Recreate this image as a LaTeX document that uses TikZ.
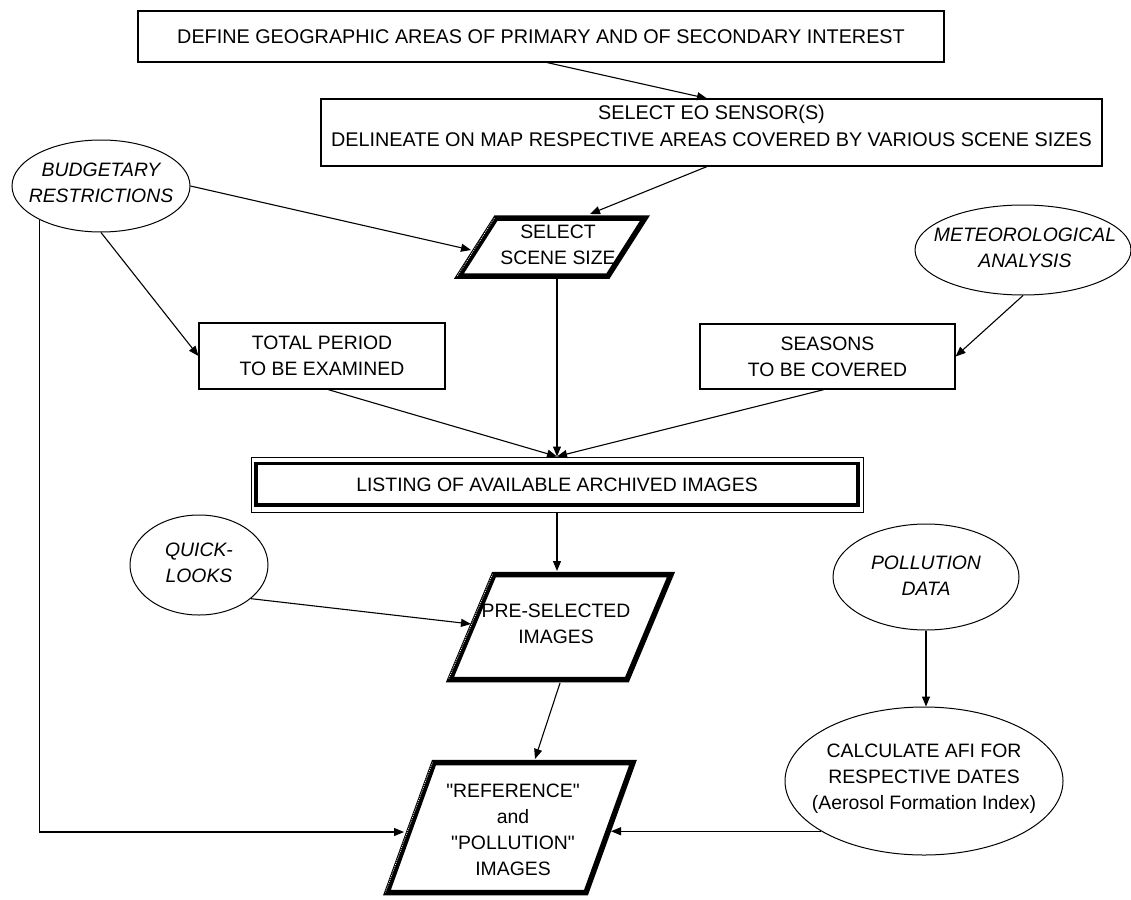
\documentclass[tikz,border=0pt]{standalone}
\usepackage{fontspec}
\setmainfont{Liberation Sans}
\usetikzlibrary{arrows.meta,shapes.geometric,calc}
\begin{document}
\begin{tikzpicture}[x=1pt,y=-1pt,
  every node/.style={font=\fontsize{19.4}{26}\selectfont, inner sep=0pt, align=center},
  bigtext/.style={font=\fontsize{19.8}{27}\selectfont},
  box/.style={draw, line width=1.1pt},
  oval/.style={draw, ellipse, line width=1pt, inner sep=0pt},
  itl/.style={font=\fontsize{19.4}{26}\selectfont\itshape},
  para/.style={line width=5.5pt, line join=miter},
  stripe/.style={white, line width=0.8pt, dash pattern=on 0.8pt off 1.2pt},
  conn/.style={line width=1.1pt, -{Triangle[length=10pt,width=8pt]}}]
\useasboundingbox (0,0) rectangle (1131,899);

% boxes
\node[box, bigtext, minimum width=806pt, minimum height=51pt] (top) at (541,36.5) {DEFINE GEOGRAPHIC AREAS OF PRIMARY AND OF SECONDARY INTEREST};
\node[box, minimum width=781pt, minimum height=67pt] (eo) at (711.5,132.5) {};
\node[bigtext] (eotext) at (711.5,126) {SELECT EO SENSOR(S)\\DELINEATE ON MAP RESPECTIVE AREAS COVERED BY VARIOUS SCENE SIZES};
\node[box, minimum width=246pt, minimum height=66pt] (total) at (322,356) {TOTAL PERIOD\\TO BE EXAMINED};
\node[box, minimum width=255pt, minimum height=65pt] (seasons) at (827.5,356.5) {SEASONS\\TO BE COVERED};
\node[box, line width=1pt, minimum width=612pt, minimum height=55pt] (listing) at (557,484.5) {LISTING OF AVAILABLE ARCHIVED IMAGES};
\draw[line width=3.5pt] ([shift={(5.5,7)}]listing.north west) rectangle ([shift={(-5.5,-7.5)}]listing.south east);

% ovals
\node[oval, minimum width=178pt, minimum height=92pt] (budget) at (101,186) {};
\node[itl] (budgettext) at (101,183) {BUDGETARY\\RESTRICTIONS};
\node[oval, minimum width=216pt, minimum height=90pt] (met) at (1023,250) {};
\node[itl] (mettext) at (1025,248) {METEOROLOGICAL\\ANALYSIS};
\node[oval, minimum width=138pt, minimum height=100pt] (quick) at (199,565) {};
\node[itl] (quicktext) at (199,563) {QUICK-\\LOOKS};
\node[oval, minimum width=186pt, minimum height=106pt] (pollution) at (926,577) {};
\node[itl] (pollutiontext) at (926,576) {POLLUTION\\DATA};
\node[oval, minimum width=278pt, minimum height=148pt] (calc) at (924,781) {};
\node (calctext) at (924,779) {CALCULATE AFI FOR\\RESPECTIVE DATES\\(Aerosol Formation Index)};

% parallelograms
\coordinate (sTL) at (496,218); \coordinate (sTR) at (645,218);
\coordinate (sBR) at (608,276); \coordinate (sBL) at (459,276);
\draw[para] (sTL) -- (sTR) -- (sBR) -- (sBL) -- cycle;
\draw[stripe] ([xshift=-1.6pt]sTL) -- ([xshift=-1.6pt]sBL);
\node (scene) at (558,245) {SELECT\\SCENE SIZE};
\coordinate (sceneT) at (590,214);
\coordinate (sceneL) at (471,250);
\coordinate (sceneB) at (557,279);

\coordinate (pTL) at (494,574.5); \coordinate (pTR) at (671,574.5);
\coordinate (pBR) at (627,679.5); \coordinate (pBL) at (450,679.5);
\draw[para] (pTL) -- (pTR) -- (pBR) -- (pBL) -- cycle;
\draw[stripe] ([xshift=-1.6pt]pTL) -- ([xshift=-1.6pt]pBL);
\node (pre) at (556,623.5) {PRE-SELECTED\\IMAGES};
\coordinate (preT) at (557,571);
\coordinate (preL) at (471,624);
\coordinate (preB) at (560,683);

\coordinate (rTL) at (434,762.5); \coordinate (rTR) at (633,762.5);
\coordinate (rBR) at (586,892.5); \coordinate (rBL) at (387,892.5);
\draw[para] (rTL) -- (rTR) -- (rBR) -- (rBL) -- cycle;
\draw[stripe] ([xshift=-1.6pt]rTL) -- ([xshift=-1.6pt]rBL);
\node (ref) at (513,830) {\textquotedbl REFERENCE\textquotedbl\\and\\\textquotedbl POLLUTION\textquotedbl\\IMAGES};
\coordinate (refT) at (535,759);
\coordinate (refL) at (404,832);
\coordinate (refR) at (611,832);

% connectors
\draw[conn] ([xshift=6pt]top.south) -- ([xshift=-4.5pt]eo.north);
\draw[conn] ([xshift=-4.5pt]eo.south) -- (sceneT);
\draw[conn] (budget.east) -- (sceneL);
\draw[conn] (budget.south) -- (total.west);
\draw[conn] (budget.209) |- (refL);
\draw[conn] ([xshift=6pt]total.south) -- (listing.north);
\draw[conn] (sceneB) -- (listing.north);
\draw[conn] ([xshift=-3.5pt]seasons.south) -- (listing.north);
\draw[conn] (met.south) -- (seasons.east);
\draw[conn] (listing.south) -- (preT);
\draw[conn] (quick.327.3) -- (preL);
\draw[conn] (preB) -- (refT);
\draw[conn] (pollution.south) -- (pollution.south |- calc.north);
\draw[conn] (calc.206.8) -- (calc.206.8 -| refR);
\end{tikzpicture}
\end{document}
